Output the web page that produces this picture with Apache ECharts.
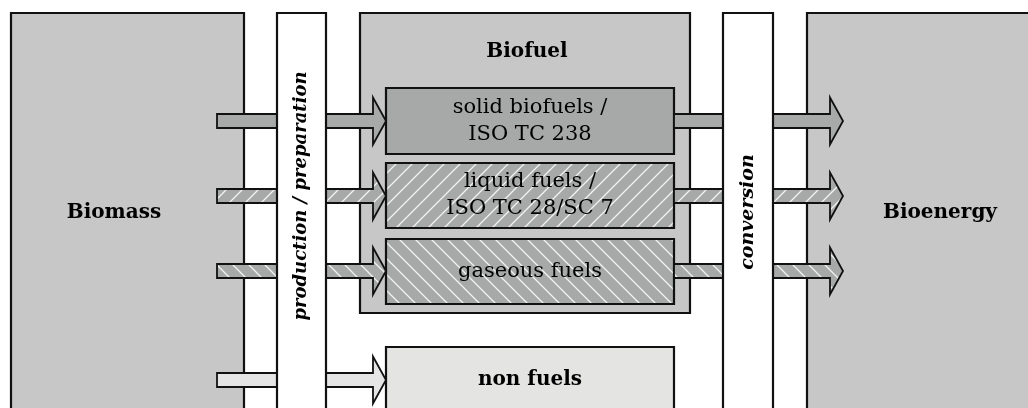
<!DOCTYPE html>
<html>
<head>
<meta charset="utf-8">
<script src="https://cdn.jsdelivr.net/npm/echarts@6/dist/echarts.min.js"></script>
<style>
html,body{margin:0;padding:0;background:#fff;}
#chart{width:1028px;height:408px;}
</style>
</head>
<body>
<div id="chart"></div>
<script>
// ---- content (names / labels) ----
const stages = ['Biomass', 'Biofuel', 'Bioenergy'];
const processes = ['production / preparation', 'conversion'];
const fuelTypes = [
  ['solid biofuels /', 'ISO TC 238'],
  ['liquid fuels /', 'ISO TC 28/SC 7'],
  ['gaseous fuels'],
  ['non fuels']
];
const fuelIsBiofuel = [true, true, true, false];   // non fuels lies outside the Biofuel box
const fuelHasOutput = [true, true, true, false];   // non fuels is not converted to bioenergy

// ---- layout (diagram units = axis units) ----
const stageX = [[11, 244], [360, 690], [807, 1080]];
const stageY = [[13, 440], [13, 313], [13, 440]];
const stageLabelPos = [[114, 213], [527, 52], [940, 213]];
const processX = [[277, 326], [723, 773]];
const processLabelY = [196, 212];
const processFontSize = [18, 19];
const fuelX = [386, 674];
const fuelY = [[88, 154], [163, 228], [239, 304], [347, 440]];
const arrowY = [121, 196, 271, 380];
const inArrowX = [217, 373, 386];   // shaft start, head base, tip
const outArrowX = [674, 830, 843];

// ---- styles ----
const C_STAGE = '#c6c7c6', C_FUEL = '#a7a9a9', C_NON = '#e4e4e3', C_LINE = '#111111';
const FONT = '"DejaVu Serif", serif';

function makeHatch(dir) {
  const s = 16, c = document.createElement('canvas');
  c.width = s; c.height = s;
  const g = c.getContext('2d');
  g.fillStyle = C_FUEL; g.fillRect(0, 0, s, s);
  g.strokeStyle = 'rgba(255,255,255,0.85)'; g.lineWidth = 1.3;
  g.beginPath();
  if (dir > 0) {
    g.moveTo(-2, s + 2); g.lineTo(s + 2, -2);
    g.moveTo(-2, 2); g.lineTo(2, -2);
    g.moveTo(s - 2, s + 2); g.lineTo(s + 2, s - 2);
  } else {
    g.moveTo(-2, -2); g.lineTo(s + 2, s + 2);
    g.moveTo(s - 2, -2); g.lineTo(s + 2, 2);
    g.moveTo(-2, s - 2); g.lineTo(2, s + 2);
  }
  g.stroke();
  return { image: c, repeat: 'repeat' };
}
const hatchUp = makeHatch(1), hatchDown = makeHatch(-1);
const fuelFill = [C_FUEL, hatchUp, hatchDown, C_NON];
const arrowFill = ['#a8aaaa', hatchUp, hatchDown, '#e5e5e5'];

const chart = echarts.init(document.getElementById('chart'), null, { renderer: 'canvas' });

function rect(api, x0, y0, x1, y1, fill, z) {
  const p0 = api.coord([x0, y0]), p1 = api.coord([x1, y1]);
  return { type: 'rect', z2: z,
    shape: { x: Math.min(p0[0], p1[0]), y: Math.min(p0[1], p1[1]), width: Math.abs(p1[0] - p0[0]), height: Math.abs(p1[1] - p0[1]) },
    style: { fill: fill, stroke: C_LINE, lineWidth: 2.2 } };
}
function arrow(api, xs, yc, fill, z) {
  const sh = 7, hh = 23.5;
  const pts = [[xs[0], yc - sh], [xs[1], yc - sh], [xs[1], yc - hh], [xs[2], yc], [xs[1], yc + hh], [xs[1], yc + sh], [xs[0], yc + sh]]
    .map(p => api.coord(p));
  return { type: 'polygon', z2: z, shape: { points: pts }, style: { fill: fill, stroke: C_LINE, lineWidth: 1.8, lineJoin: 'miter' } };
}
function text(api, x, y, str, font, rot, z) {
  const p = api.coord([x, y]);
  return { type: 'text', z2: z, x: p[0], y: p[1], rotation: rot || 0,
    style: { text: str, font: font, fill: '#000', align: 'center', verticalAlign: 'middle', lineHeight: 27 } };
}

function renderItem(params, api) {
  const ch = [];
  stages.forEach((s, i) => {
    ch.push(rect(api, stageX[i][0], stageY[i][0], stageX[i][1], stageY[i][1], C_STAGE, 1));
    ch.push(text(api, stageLabelPos[i][0], stageLabelPos[i][1], s, 'bold 20px ' + FONT, 0, 50));
  });
  fuelTypes.forEach((f, i) => {
    ch.push(rect(api, fuelX[0], fuelY[i][0], fuelX[1], fuelY[i][1], fuelFill[i], 10));
    const font = fuelIsBiofuel[i] ? '21px ' + FONT : 'bold 20px ' + FONT;
    const cy = fuelIsBiofuel[i] ? (fuelY[i][0] + fuelY[i][1]) / 2 : arrowY[i];
    ch.push(text(api, (fuelX[0] + fuelX[1]) / 2, cy, f.join('\n'), font, 0, 50));
    ch.push(arrow(api, inArrowX, arrowY[i], arrowFill[i], 20));
    if (fuelHasOutput[i]) ch.push(arrow(api, outArrowX, arrowY[i], arrowFill[i], 20));
  });
  processes.forEach((p, i) => {
    ch.push(rect(api, processX[i][0], 13, processX[i][1], 440, '#ffffff', 30));
    ch.push(text(api, (processX[i][0] + processX[i][1]) / 2, processLabelY[i], p, 'italic bold ' + processFontSize[i] + 'px ' + FONT, Math.PI / 2, 50));
  });
  return { type: 'group', children: ch };
}

chart.setOption({
  animation: false,
  backgroundColor: '#ffffff',
  grid: { left: 0, right: 0, top: 0, bottom: 0 },
  xAxis: { type: 'value', min: 0, max: 1028, show: false },
  yAxis: { type: 'value', min: 0, max: 408, inverse: true, show: false },
  series: [{
    type: 'custom',
    renderItem: renderItem,
    data: [[0, 0]],
    clip: false,
    silent: true
  }]
});
</script>
</body>
</html>
